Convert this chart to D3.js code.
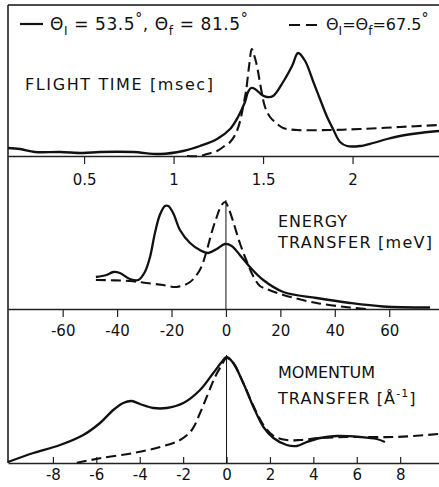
<!DOCTYPE html>
<html>
<head>
<meta charset="utf-8">
<script src="https://cdn.jsdelivr.net/npm/d3@7"></script>
<style>
  body { margin: 0; background: #fff; }
  text { font-family: "DejaVu Sans", sans-serif; fill: #111; }
</style>
</head>
<body>
<script>

const width = 439;
const height = 487;

// flight time [msec] vs intensity (arbitrary units)
const flightSolid = [[0.075,8],[0.142,7],[0.226,4],[0.366,4],[0.494,3],[0.589,4],[0.774,4],[0.925,2],
  [1.053,5],[1.148,10],[1.243,17],[1.316,27],[1.360,39],[1.399,54],[1.416,64],[1.433,68],[1.455,67],
  [1.494,61],[1.522,59],[1.556,60],[1.612,74],[1.662,90],[1.696,103],[1.735,95],[1.779,75],[1.818,57],
  [1.858,39],[1.891,27],[1.930,14],[1.969,10],[2.042,10],[2.115,13],[2.193,17],[2.265,20],[2.377,23],[2.483,25]];
const flightDashed = [[1.075,0],[1.148,0],[1.187,2],[1.243,5],[1.277,9],[1.316,14],[1.349,23],[1.372,35],
  [1.388,49],[1.405,65],[1.422,90],[1.437,107],[1.450,101],[1.466,90],[1.489,67],[1.511,49],[1.539,39],
  [1.573,33],[1.612,28],[1.690,26],[1.874,26],[2.042,27],[2.265,29],[2.483,31]];

// energy transfer [meV]
const energySolid = [[-47.8,32],[-43.9,34],[-41.4,37],[-39.0,36],[-35.3,30],[-32.2,29],[-29.8,37],[-27.9,52],
  [-26.1,76],[-24.3,94],[-22.4,103],[-21.2,103],[-19.4,96],[-16.9,79],[-13.2,66],[-9.6,59],[-6.5,56],
  [-3.4,60],[-0.4,65],[2.1,63],[5.1,54],[8.8,42],[13.7,29],[21.1,17],[33.3,11],[45.6,6],[57.8,2.5],[75.0,1.5]];
const energyDashed = [[-47.8,29],[-35.3,28],[-29.2,26],[-23.1,24],[-18.1,22],[-13.2,27],[-9.6,39],[-7.1,58],
  [-5.3,76],[-3.4,92],[-1.6,104],[-0.2,107],[0.8,102],[2.7,87],[5.1,66],[7.6,48],[10.0,33],[12.5,23],
  [15.0,20],[21.1,14],[33.3,6],[45.6,1.5],[51.7,0]];

// momentum transfer [1/A]
const momentumSolid = [[-10.07,1],[-8.90,10],[-7.67,18],[-6.60,28],[-5.83,40],[-5.22,53],[-4.76,60],[-4.37,62],
  [-3.99,59],[-3.37,55],[-2.76,55],[-1.99,60],[-1.22,73],[-0.61,90],[-0.22,101],[0,106],[0.31,100],[0.77,80],
  [1.24,56],[1.70,36],[2.16,25],[2.77,18],[3.24,17],[3.70,21],[4.31,25],[5.08,27],[6.15,26],[6.92,24],[7.30,21]];
const momentumDashed = [[-6.90,0.3],[-5.83,4.7],[-4.29,10],[-3.06,16],[-2.14,23],[-1.60,33],[-1.22,50],[-0.84,70],
  [-0.53,86],[-0.22,98],[0,105],[0.31,100],[0.77,80],[1.24,57],[1.70,38],[2.16,27],[2.77,23],[3.39,23],
  [4.31,25],[5.54,26],[6.61,26],[7.69,26],[8.61,27],[9.79,29]];

const flightTicks = [0.5, 1, 1.5, 2];
const energyTicks = [-60, -40, -20, 0, 20, 40, 60];
const momentumTicks = [-8, -6, -4, -2, 0, 2, 4, 6, 8];

let svg = d3.select('body').append('svg')
            .attr('width', width)
            .attr('height', height);

svg.append('rect').attr('width', width).attr('height', height).attr('fill', '#fff');

const panels = [
  { x: d3.scaleLinear().domain([0.075, 2.483]).range([8, 439]),
    y: d3.scaleLinear().domain([0, 150]).range([156, 6]),
    solid: flightSolid, dashed: flightDashed, ticks: flightTicks,
    size: 8, pad: 10, zeroLine: null },
  { x: d3.scaleLinear().domain([-80.1, 78.3]).range([8, 439]),
    y: d3.scaleLinear().domain([0, 150]).range([309, 159]),
    solid: energySolid, dashed: energyDashed, ticks: energyTicks,
    size: 8, pad: 8, zeroLine: 109 },
  { x: d3.scaleLinear().domain([-10.07, 9.79]).range([8, 439]),
    y: d3.scaleLinear().domain([0, 150]).range([463, 313]),
    solid: momentumSolid, dashed: momentumDashed, ticks: momentumTicks,
    size: -6, pad: 6, zeroLine: 108 }
];

// frame
svg.append('line').attr('x1', 8).attr('x2', 8).attr('y1', 5).attr('y2', 463)
   .attr('stroke', '#111').attr('stroke-width', 1.5);
svg.append('line').attr('x1', 8).attr('x2', 439).attr('y1', 5).attr('y2', 5)
   .attr('stroke', '#111').attr('stroke-width', 1.5);

panels.forEach(p => {
  const base = p.y(0);
  const axis = d3.axisBottom(p.x)
                 .tickValues(p.ticks)
                 .tickSizeInner(p.size)
                 .tickSizeOuter(0)
                 .tickPadding(p.pad)
                 .tickFormat(d => String(d));
  const g = svg.append('g')
               .attr('transform', `translate(0,${base})`)
               .call(axis);
  g.select('.domain').attr('stroke', '#222').attr('stroke-width', 1.5);
  g.selectAll('.tick line').attr('stroke', '#222').attr('stroke-width', 1.2);
  g.selectAll('.tick text')
   .attr('fill', '#111')
   .style('font-family', '"DejaVu Sans", sans-serif')
   .style('font-size', '15px');

  if (p.zeroLine) {
    svg.append('line')
       .attr('x1', p.x(0)).attr('x2', p.x(0))
       .attr('y1', base).attr('y2', p.y(p.zeroLine))
       .attr('stroke', '#111').attr('stroke-width', 1);
  }

  const line = d3.line()
                 .x(d => p.x(d[0]))
                 .y(d => p.y(d[1]))
                 .curve(d3.curveCatmullRom.alpha(0.5));

  svg.append('path').datum(p.dashed)
     .attr('d', line)
     .attr('fill', 'none')
     .attr('stroke', '#111')
     .attr('stroke-width', 2.1)
     .attr('stroke-dasharray', '10,5');

  svg.append('path').datum(p.solid)
     .attr('d', line)
     .attr('fill', 'none')
     .attr('stroke', '#111')
     .attr('stroke-width', 2.3)
     .attr('stroke-linejoin', 'round');
});

// titles
function title(str, x, y, len) {
  svg.append('text')
     .attr('x', x).attr('y', y)
     .attr('font-size', 16)
     .attr('textLength', len)
     .attr('lengthAdjust', 'spacing')
     .text(str);
}
title('FLIGHT  TIME  [msec]', 25, 90, 188);
title('ENERGY', 278, 227, 69);
title('TRANSFER  [meV]', 278, 248, 154);
title('MOMENTUM', 278, 378, 97);

let mt = svg.append('text').attr('x', 278).attr('y', 404).attr('font-size', 16)
            .attr('letter-spacing', 1.1);
mt.append('tspan').text('TRANSFER  [Å');
mt.append('tspan').attr('dy', -7).attr('font-size', 11).text('-1');
mt.append('tspan').attr('dy', 7).text(']');

// legend
svg.append('line').attr('x1', 20).attr('x2', 43).attr('y1', 24).attr('y2', 24)
   .attr('stroke', '#111').attr('stroke-width', 2.2);
svg.append('line').attr('x1', 289).attr('x2', 318).attr('y1', 25).attr('y2', 25)
   .attr('stroke', '#111').attr('stroke-width', 2.2).attr('stroke-dasharray', '11,6');

function legendText(x, size, spacing, parts) {
  let t = svg.append('text').attr('x', x).attr('y', 30).attr('font-size', size)
             .attr('letter-spacing', spacing);
  parts.forEach(([s, kind]) => {
    let sp = t.append('tspan').text(s);
    if (kind === 'sub') sp.attr('font-size', 12).attr('dy', 5);
    if (kind === 'unsub') sp.attr('dy', -5);
    if (kind === 'sup') sp.attr('font-size', 14).attr('dy', -7);
    if (kind === 'unsup') sp.attr('dy', 7);
  });
}
legendText(50, 17, 0.6, [['Θ'], ['I', 'sub'], [' = 53.5', 'unsub'], ['°', 'sup'], [',  Θ', 'unsup'],
                ['f', 'sub'], [' = 81.5', 'unsub'], ['°', 'sup']]);
legendText(326, 16, 0, [['Θ'], ['I', 'sub'], ['=Θ', 'unsub'], ['f', 'sub'], ['=67.5', 'unsub'], ['°', 'sup']]);

</script>
</body>
</html>
